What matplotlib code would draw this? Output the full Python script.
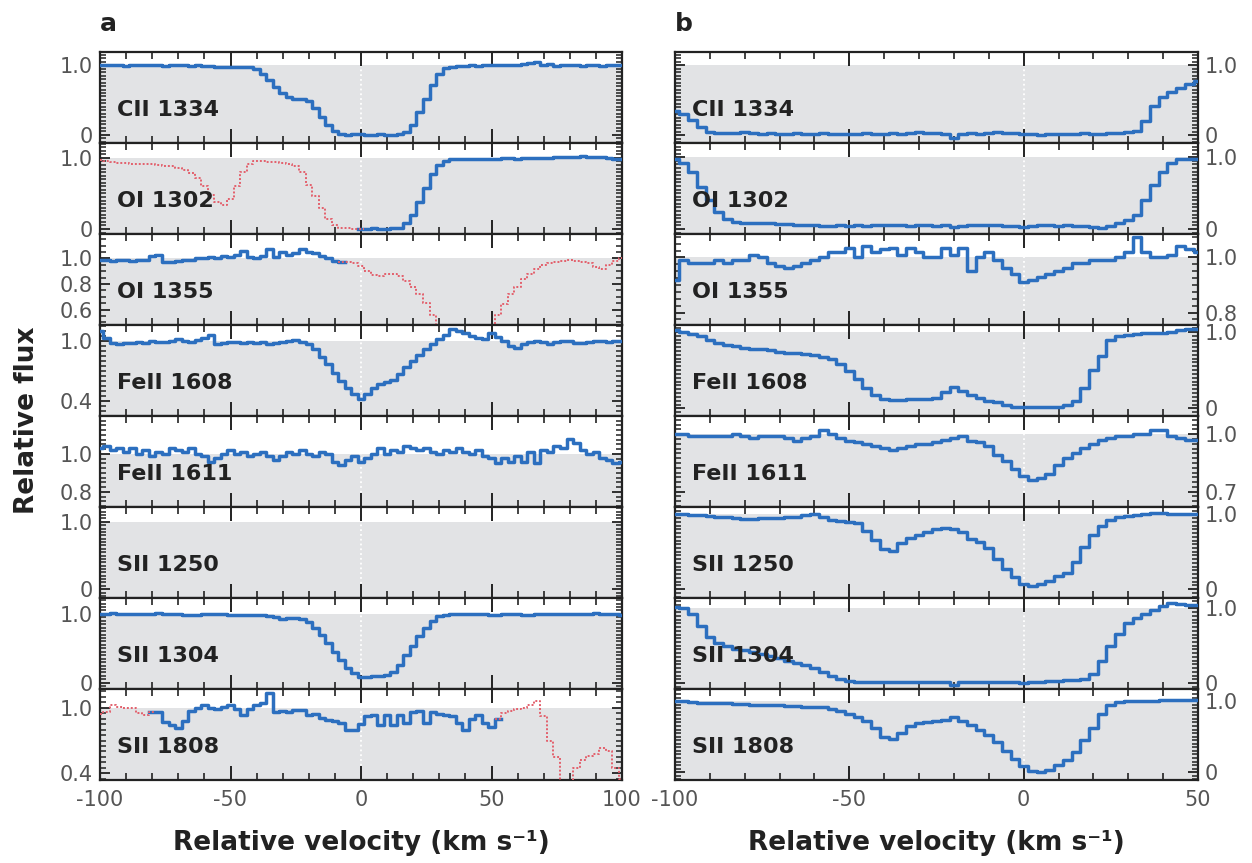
import numpy as np
import matplotlib.pyplot as plt
from matplotlib.ticker import MultipleLocator

plt.rcParams['font.family'] = 'DejaVu Sans'
plt.rcParams['axes.unicode_minus'] = False

# velocity sampling of the spectra (km/s)
vel_a = np.arange(-100.0, 100.1, 2.5)
vel_b = np.arange(-100.0, 50.1, 2.5)

lines = ['CII 1334', 'OI 1302', 'OI 1355', 'FeII 1608',
         'FeII 1611', 'SII 1250', 'SII 1304', 'SII 1808']

# ---- column a: normalised flux, -100 .. 100 km/s ----
a_cii1334 = [1.00, 1.00, 1.01, 1.00, 0.99, 1.00, 1.01, 1.01, 1.00, 1.00,
             0.99, 1.00, 1.00, 1.00, 0.99, 1.00, 0.99, 0.99, 0.98, 0.97,
             0.97, 0.98, 0.98, 0.97, 0.94, 0.87, 0.78, 0.68, 0.60, 0.54,
             0.52, 0.52, 0.48, 0.38, 0.26, 0.14, 0.05, 0.01, 0.00, 0.01,
             0.01, 0.00, 0.00, 0.01, 0.00, 0.00, 0.01, 0.04, 0.14, 0.32,
             0.52, 0.72, 0.88, 0.96, 0.98, 0.99, 0.99, 1.00, 0.99, 1.00,
             1.00, 1.01, 1.00, 1.00, 1.01, 1.02, 1.03, 1.05, 1.00, 1.02,
             0.99, 1.01, 1.00, 1.00, 0.99, 1.00, 1.00, 0.99, 1.00, 1.00,
             1.00]
a_oi1302 = [0.97, 0.95, 0.94, 0.93, 0.93, 0.92, 0.92, 0.91, 0.91, 0.90,
            0.89, 0.88, 0.86, 0.83, 0.79, 0.72, 0.60, 0.48, 0.38, 0.34,
            0.42, 0.60, 0.80, 0.92, 0.95, 0.95, 0.94, 0.94, 0.93, 0.91,
            0.88, 0.80, 0.62, 0.46, 0.30, 0.14, 0.05, 0.01, 0.01, 0.00,
            0.00, 0.00, 0.01, 0.00, 0.00, 0.01, 0.02, 0.08, 0.20, 0.38,
            0.58, 0.78, 0.90, 0.96, 0.98, 0.98, 0.99, 0.99, 0.98, 0.99,
            0.99, 0.99, 1.00, 1.00, 0.99, 1.00, 1.00, 1.00, 1.00, 1.00,
            1.01, 1.01, 1.01, 1.01, 1.03, 1.02, 1.01, 1.01, 1.00, 0.98,
            0.99]
a_oi1355 = [0.99, 0.99, 0.98, 0.99, 0.99, 0.98, 0.99, 0.99, 1.02, 1.03,
            0.97, 0.97, 0.98, 0.99, 0.99, 1.00, 1.00, 1.01, 1.00, 1.02,
            1.01, 1.03, 1.06, 1.01, 1.00, 1.02, 1.07, 1.01, 1.05, 1.03,
            1.04, 1.07, 1.05, 1.04, 1.02, 1.00, 0.98, 0.97, 0.97, 0.96,
            0.94, 0.90, 0.87, 0.86, 0.88, 0.88, 0.86, 0.82, 0.78, 0.72,
            0.65, 0.56, 0.48, 0.42, 0.40, 0.40, 0.40, 0.40, 0.40, 0.42,
            0.46, 0.56, 0.64, 0.72, 0.78, 0.84, 0.88, 0.92, 0.95, 0.96,
            0.97, 0.98, 0.99, 0.98, 0.97, 0.96, 0.93, 0.92, 0.95, 0.98,
            1.00]
a_feii1608 = [1.10, 1.03, 0.98, 0.97, 0.98, 0.98, 0.99, 0.98, 1.00, 0.99,
              0.99, 1.00, 1.02, 1.00, 0.99, 1.01, 1.03, 1.06, 0.97, 0.98,
              0.99, 0.99, 0.98, 0.99, 0.98, 0.99, 0.97, 0.98, 0.99, 1.00,
              1.01, 0.99, 0.97, 0.92, 0.84, 0.77, 0.68, 0.60, 0.53, 0.47,
              0.42, 0.47, 0.53, 0.57, 0.59, 0.61, 0.67, 0.74, 0.80, 0.86,
              0.92, 0.97, 1.02, 1.06, 1.12, 1.10, 1.08, 1.05, 1.03, 1.02,
              1.08, 1.04, 1.00, 0.95, 0.93, 0.97, 0.99, 1.00, 0.99, 0.97,
              0.99, 1.00, 1.00, 0.98, 0.98, 0.99, 1.00, 1.00, 0.99, 1.00,
              1.00]
a_feii1611 = [1.03, 1.04, 1.02, 1.03, 1.01, 1.03, 1.00, 1.02, 0.99, 1.01,
              1.00, 1.03, 1.02, 1.01, 1.03, 1.00, 0.99, 0.96, 0.98, 1.00,
              1.02, 1.00, 1.01, 0.99, 1.00, 1.01, 0.99, 0.97, 0.99, 1.01,
              1.00, 1.02, 1.00, 0.99, 1.01, 1.00, 0.96, 0.94, 0.97, 0.99,
              0.96, 0.98, 1.00, 1.03, 1.00, 1.02, 1.01, 1.04, 1.03, 1.02,
              1.03, 1.01, 1.00, 1.02, 1.01, 1.03, 1.01, 1.00, 1.02, 0.99,
              0.98, 0.95, 0.98, 0.96, 0.99, 0.96, 1.01, 0.95, 1.02, 1.01,
              1.04, 1.03, 1.08, 1.06, 1.02, 1.00, 1.01, 0.98, 0.97, 0.95,
              0.96]
a_sii1304 = [1.00, 1.00, 1.01, 1.00, 1.00, 1.00, 1.00, 1.00, 1.00, 1.01,
             1.00, 1.00, 1.00, 0.99, 0.98, 0.99, 1.00, 1.00, 1.00, 1.00,
             0.99, 0.99, 0.99, 0.99, 0.98, 0.98, 0.97, 0.95, 0.93, 0.94,
             0.94, 0.92, 0.88, 0.80, 0.70, 0.58, 0.45, 0.33, 0.22, 0.14,
             0.09, 0.09, 0.10, 0.10, 0.11, 0.16, 0.26, 0.40, 0.54, 0.68,
             0.80, 0.90, 0.97, 0.99, 1.00, 1.00, 1.00, 1.00, 1.00, 1.00,
             0.98, 0.99, 1.00, 1.00, 1.00, 0.98, 0.99, 1.00, 1.00, 1.00,
             1.00, 1.00, 1.00, 1.00, 1.00, 1.00, 1.01, 1.00, 1.00, 1.00,
             0.99]
a_sii1808 = [0.94, 0.96, 1.02, 1.01, 1.00, 1.00, 0.95, 0.93, 0.96, 0.96,
             0.87, 0.84, 0.81, 0.88, 0.97, 1.00, 1.02, 1.00, 0.99, 1.01,
             1.02, 0.99, 0.93, 0.99, 1.02, 1.04, 1.13, 0.96, 0.97, 0.96,
             0.98, 0.98, 0.93, 0.94, 0.91, 0.89, 0.88, 0.86, 0.80, 0.80,
             0.85, 0.92, 0.93, 0.84, 0.93, 0.84, 0.93, 0.86, 0.96, 0.97,
             0.86, 0.96, 0.94, 0.93, 0.92, 0.86, 0.80, 0.90, 0.93, 0.86,
             0.82, 0.90, 0.95, 0.97, 0.99, 1.00, 1.02, 1.06, 0.92, 0.70,
             0.55, 0.32, 0.30, 0.45, 0.52, 0.56, 0.58, 0.63, 0.60, 0.45,
             0.35]

# ---- column b: normalised flux, -100 .. 50 km/s ----
b_cii1334 = [0.35, 0.30, 0.22, 0.12, 0.05, 0.03, 0.03, 0.03, 0.04, 0.03,
             0.02, 0.03, 0.02, 0.02, 0.03, 0.02, 0.02, 0.03, 0.02, 0.02,
             0.02, 0.02, 0.03, 0.02, 0.02, 0.03, 0.02, 0.03, 0.04, 0.03,
             0.03, 0.02, -0.04, 0.02, 0.03, 0.02, 0.03, 0.04, 0.03, 0.03,
             0.02, 0.02, 0.01, 0.02, 0.02, 0.02, 0.02, 0.03, 0.02, 0.02,
             0.03, 0.03, 0.04, 0.06, 0.20, 0.42, 0.55, 0.62, 0.68, 0.73,
             0.77]
b_oi1302 = [0.97, 0.92, 0.80, 0.58, 0.40, 0.24, 0.14, 0.10, 0.09, 0.09,
            0.08, 0.08, 0.07, 0.07, 0.06, 0.05, 0.05, 0.04, 0.04, 0.05,
            0.04, 0.05, 0.04, 0.05, 0.06, 0.05, 0.05, 0.04, 0.05, 0.05,
            0.04, 0.05, 0.03, 0.04, 0.05, 0.05, 0.06, 0.05, 0.04, 0.04,
            0.03, 0.04, 0.05, 0.05, 0.04, 0.05, 0.04, 0.04, 0.03, 0.02,
            0.04, 0.08, 0.12, 0.20, 0.40, 0.62, 0.80, 0.92, 0.97, 0.97,
            0.97]
b_oi1355 = [0.92, 0.99, 0.98, 0.98, 0.98, 0.99, 0.98, 0.99, 0.99, 1.01,
            1.00, 0.98, 0.97, 0.96, 0.97, 0.98, 0.99, 1.00, 1.02, 1.02,
            1.035, 1.00, 1.04, 1.02, 1.03, 1.035, 1.01, 1.035, 1.02, 1.00,
            1.00, 1.035, 1.01, 1.035, 0.95, 1.00, 1.02, 0.99, 0.96, 0.94,
            0.91, 0.92, 0.93, 0.94, 0.95, 0.96, 0.98, 0.98, 0.99, 0.99,
            0.99, 1.00, 1.02, 1.075, 1.02, 1.00, 1.00, 1.01, 1.04, 1.03,
            1.02]
b_feii1608 = [1.02, 1.00, 0.97, 0.94, 0.90, 0.86, 0.83, 0.81, 0.79, 0.78,
              0.77, 0.76, 0.74, 0.73, 0.72, 0.71, 0.70, 0.67, 0.64, 0.58,
              0.49, 0.38, 0.27, 0.18, 0.12, 0.11, 0.11, 0.12, 0.12, 0.12,
              0.14, 0.22, 0.28, 0.23, 0.17, 0.13, 0.10, 0.08, 0.05, 0.02,
              0.015, 0.015, 0.02, 0.015, 0.02, 0.04, 0.10, 0.27, 0.50, 0.69,
              0.90, 0.95, 0.96, 0.97, 0.98, 0.98, 0.99, 1.00, 1.02, 1.04,
              1.04]
b_feii1611 = [1.00, 1.00, 0.99, 0.99, 0.99, 0.99, 0.99, 1.00, 0.99, 0.98,
              0.99, 0.99, 0.99, 0.98, 0.965, 0.98, 0.99, 1.02, 1.00, 0.98,
              0.965, 0.96, 0.95, 0.94, 0.93, 0.92, 0.93, 0.94, 0.95, 0.95,
              0.96, 0.97, 0.98, 0.99, 0.965, 0.96, 0.94, 0.89, 0.86, 0.82,
              0.78, 0.76, 0.77, 0.79, 0.84, 0.875, 0.90, 0.93, 0.95, 0.97,
              0.98, 0.99, 0.99, 1.00, 1.00, 1.02, 1.02, 0.99, 0.98, 0.97,
              0.97]
b_sii1250 = [1.00, 1.00, 0.99, 0.99, 0.98, 0.97, 0.96, 0.95, 0.94, 0.94,
             0.95, 0.95, 0.955, 0.96, 0.97, 0.99, 1.00, 0.97, 0.93, 0.91,
             0.90, 0.89, 0.78, 0.66, 0.54, 0.51, 0.62, 0.68, 0.73, 0.77,
             0.80, 0.82, 0.81, 0.76, 0.67, 0.63, 0.55, 0.40, 0.27, 0.16,
             0.07, 0.04, 0.07, 0.11, 0.17, 0.22, 0.36, 0.56, 0.72, 0.84,
             0.93, 0.97, 0.98, 0.99, 1.00, 1.02, 1.02, 1.01, 1.00, 1.00,
             1.00]
b_sii1304 = [1.02, 1.00, 0.92, 0.76, 0.62, 0.54, 0.49, 0.46, 0.44, 0.42,
             0.39, 0.36, 0.33, 0.30, 0.27, 0.24, 0.20, 0.15, 0.10, 0.06,
             0.03, 0.02, 0.02, 0.01, 0.02, 0.01, 0.01, 0.02, 0.02, 0.01,
             0.02, 0.02, -0.02, 0.01, 0.02, 0.02, 0.02, 0.01, 0.02, 0.02,
             0.00, 0.01, 0.02, 0.03, 0.03, 0.04, 0.04, 0.05, 0.12, 0.30,
             0.50, 0.66, 0.80, 0.87, 0.93, 0.98, 1.03, 1.07, 1.06, 1.05,
             1.05]
b_sii1808 = [1.00, 1.00, 0.99, 0.98, 0.98, 0.97, 0.97, 0.96, 0.955, 0.95,
             0.95, 0.94, 0.94, 0.93, 0.93, 0.92, 0.92, 0.91, 0.89, 0.86,
             0.82, 0.78, 0.72, 0.62, 0.50, 0.46, 0.55, 0.65, 0.69, 0.71,
             0.72, 0.74, 0.77, 0.72, 0.66, 0.60, 0.52, 0.42, 0.30, 0.18,
             0.09, 0.02, 0.00, 0.03, 0.10, 0.17, 0.29, 0.45, 0.62, 0.82,
             0.95, 0.99, 1.00, 1.00, 1.00, 1.00, 1.01, 1.01, 1.01, 1.02,
             1.02]

a_flux = [a_cii1334, a_oi1302, a_oi1355, a_feii1608,
          a_feii1611, None, a_sii1304, a_sii1808]
b_flux = [b_cii1334, b_oi1302, b_oi1355, b_feii1608,
          b_feii1611, b_sii1250, b_sii1304, b_sii1808]

# velocity ranges contaminated by blends (drawn dotted red)
a_blend = [[], [(-np.inf, 0.0)], [(-7.5, np.inf)], [], [], [], [],
           [(-np.inf, -80.0), (52.5, np.inf)]]
b_blend = [[]] * 8

a_ylim = [(-0.12, 1.19), (-0.07, 1.21), (0.48, 1.19), (0.25, 1.165),
          (0.72, 1.20), (-0.13, 1.22), (-0.09, 1.23), (0.34, 1.17)]
b_ylim = [(-0.11, 1.19), (-0.07, 1.20), (0.755, 1.085), (-0.10, 1.09),
          (0.62, 1.095), (-0.12, 1.10), (-0.08, 1.14), (-0.11, 1.17)]
a_yticks = [[0, 1], [0, 1], [0.6, 0.8, 1.0], [0.4, 1.0],
            [0.8, 1.0], [0, 1], [0, 1], [0.4, 1.0]]
b_yticks = [[0, 1], [0, 1], [0.8, 1.0], [0, 1],
            [0.7, 1.0], [0, 1], [0, 1], [0, 1]]
a_yminor = [0.05, 0.05, 0.05, 0.05, 0.025, 0.05, 0.05, 0.05]
b_yminor = [0.05, 0.05, 0.025, 0.05, 0.025, 0.05, 0.05, 0.05]

BLUE = '#2c6fbf'
RED = '#e2606c'
SHADE = '#e2e3e5'
INK = '#222222'
TICKCOL = '#555555'


def fmt(t):
    return '0' if t == 0 else '%.1f' % t


def draw_panel(ax, vel, flux, blend, ylim, yticks, yminor, name, xlim,
               bottom, right_labels):
    ax.set_xlim(xlim)
    ax.set_ylim(ylim)
    ax.axhspan(ylim[0], 1.0, color=SHADE, lw=0, zorder=0)
    ax.axvline(0, color='white', ls=':', lw=1.3, zorder=1)

    if flux is not None:
        flux = np.asarray(flux, float)
        red = np.zeros(len(vel), bool)
        inner = np.zeros(len(vel), bool)
        for lo, hi in blend:
            red |= (vel >= lo) & (vel <= hi)
            inner |= (vel > lo) & (vel < hi)
        ax.step(vel, np.where(inner, np.nan, flux), where='mid',
                color=BLUE, lw=2.5, zorder=3)
        if red.any():
            ax.step(vel, np.where(red, flux, np.nan), where='mid',
                    color=RED, lw=1.4, ls=(0, (1, 1)), zorder=3)

    ax.text(0.032, 0.36, name, transform=ax.transAxes, va='center',
            ha='left', fontsize=16, fontweight='bold', color=INK, zorder=4)

    ax.xaxis.set_major_locator(MultipleLocator(50))
    ax.xaxis.set_minor_locator(MultipleLocator(10))
    ax.set_yticks(yticks, [fmt(t) for t in yticks])
    ax.yaxis.set_minor_locator(MultipleLocator(yminor))

    ax.tick_params(which='both', direction='in', top=True, bottom=True,
                   left=True, right=True, colors=INK, labelcolor=TICKCOL,
                   labelsize=15)
    ax.tick_params(axis='x', which='major', length=10, width=1.4)
    ax.tick_params(axis='x', which='minor', length=5, width=1.2)
    ax.tick_params(axis='y', which='major', length=7, width=1.3)
    ax.tick_params(axis='y', which='minor', length=4.5, width=1.1)
    ax.tick_params(axis='x', labelbottom=bottom, pad=7)
    ax.tick_params(axis='y', labelleft=not right_labels,
                   labelright=right_labels, pad=5)
    for sp in ax.spines.values():
        sp.set_color(INK)
        sp.set_linewidth(1.6)


fig = plt.figure(figsize=(12.52, 8.63), dpi=100)

top = 1 - 52 / 863
ph = 91 / 863
cols = [(100 / 1252, 522 / 1252, vel_a, a_flux, a_blend, a_ylim, a_yticks,
         a_yminor, (-100, 100), False),
        (675 / 1252, 523 / 1252, vel_b, b_flux, b_blend, b_ylim, b_yticks,
         b_yminor, (-100, 50), True)]

for x0, w, vel, fluxes, blends, ylims, yts, ymins, xlim, rlab in cols:
    for i in range(8):
        ax = fig.add_axes([x0, top - (i + 1) * ph, w, ph])
        draw_panel(ax, vel, fluxes[i], blends[i], ylims[i], yts[i], ymins[i],
                   lines[i], xlim, i == 7, rlab)

fig.text(100 / 1252, 1 - 24 / 863, 'a', fontsize=18, fontweight='bold',
         va='center', ha='left', color=INK)
fig.text(675 / 1252, 1 - 24 / 863, 'b', fontsize=18, fontweight='bold',
         va='center', ha='left', color=INK)
fig.text(27 / 1252, 1 - 420 / 863, 'Relative flux', rotation=90,
         fontsize=19, fontweight='bold', va='center', ha='center', color=INK)
fig.text(361 / 1252, 1 - 843 / 863, 'Relative velocity (km s\u207b\u00b9)',
         fontsize=19, fontweight='bold', va='center', ha='center', color=INK)
fig.text(936 / 1252, 1 - 843 / 863, 'Relative velocity (km s\u207b\u00b9)',
         fontsize=19, fontweight='bold', va='center', ha='center', color=INK)

fig.savefig('out.png', dpi=100)
